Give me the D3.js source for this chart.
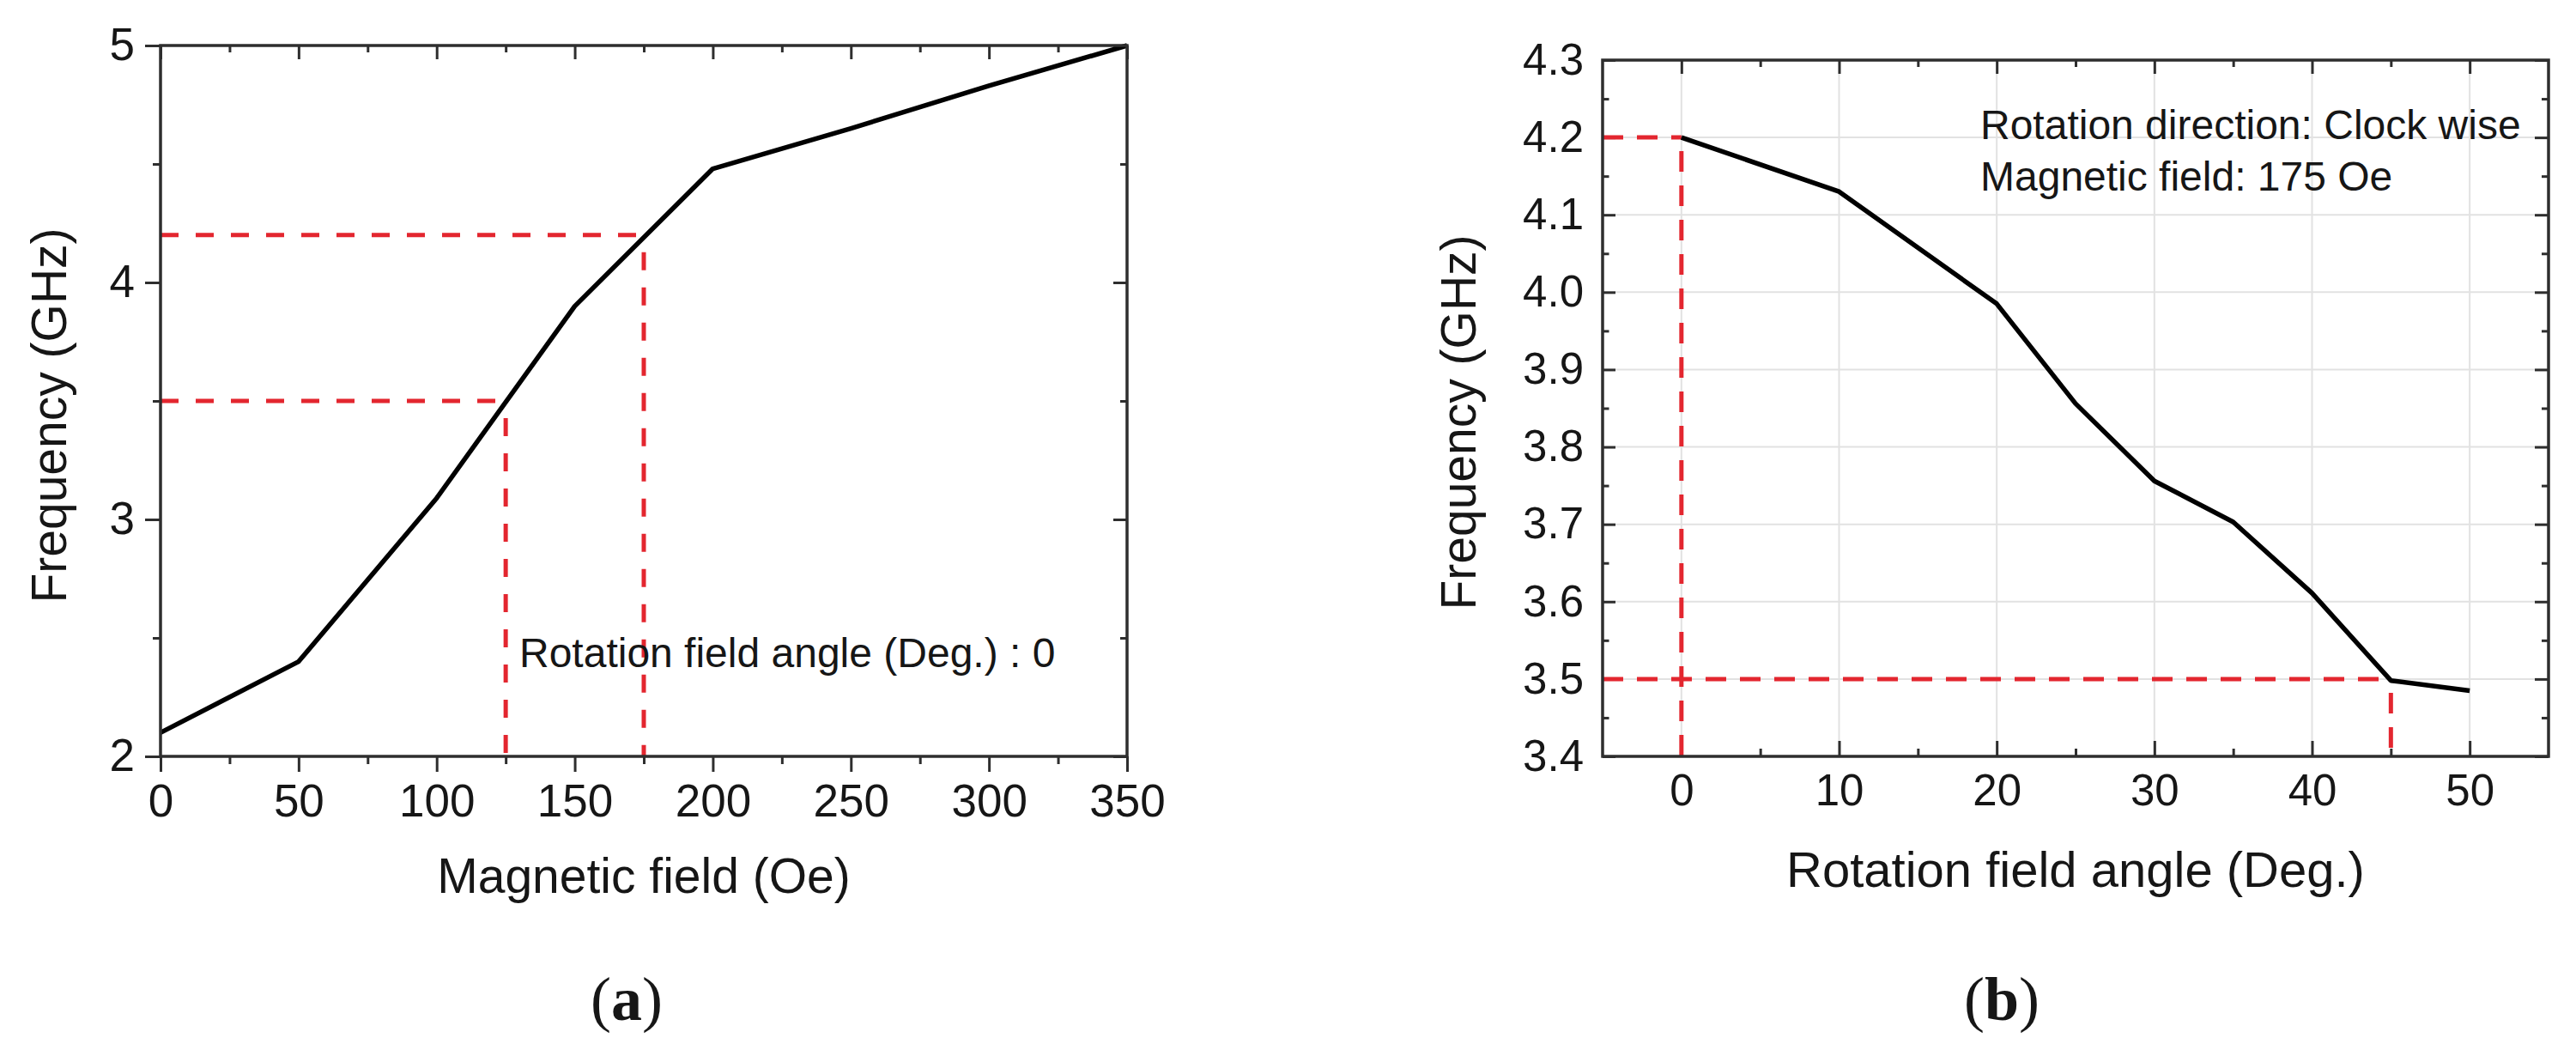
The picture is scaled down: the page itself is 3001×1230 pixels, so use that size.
<!DOCTYPE html>
<html>
<head>
<meta charset="utf-8">
<script src="https://cdn.jsdelivr.net/npm/d3@7"></script>
<style>
  body { margin: 0; background: #fff; }
  svg { display: block; }
  text { font-family: "Liberation Sans", Arial, sans-serif; fill: #161616; }
</style>
</head>
<body>
<svg id="chart" width="3001" height="1230"></svg>
<script>
// (a) frequency vs magnetic field
const fieldOe = [0, 50, 100, 150, 200, 250, 300, 350];
const freqA = [2.10, 2.40, 3.09, 3.90, 4.48, 4.65, 4.83, 5.00];
const ticksAx = [0, 50, 100, 150, 200, 250, 300, 350];
const minorAx = [25, 75, 125, 175, 225, 275, 325];
const ticksAy = [2, 3, 4, 5];
const minorAy = [2.5, 3.5, 4.5];
// red guides: [x1, y1, x2, y2] in data units
const guidesA = [[0, 3.5, 125, 3.5], [125, 3.5, 125, 2], [0, 4.2, 175, 4.2], [175, 4.2, 175, 2]];

// (b) frequency vs rotation angle
const angleDeg = [0, 10, 20, 25, 30, 35, 40, 45, 50];
const freqB = [4.20, 4.13, 3.985, 3.856, 3.756, 3.703, 3.611, 3.498, 3.485];
const ticksBx = [0, 10, 20, 30, 40, 50];
const minorBx = [5, 15, 25, 35, 45];
const ticksBy = [3.4, 3.5, 3.6, 3.7, 3.8, 3.9, 4.0, 4.1, 4.2, 4.3];
const minorBy = [3.45, 3.55, 3.65, 3.75, 3.85, 3.95, 4.05, 4.15, 4.25];
const guidesB = [[-5, 4.2, 0, 4.2], [0, 4.2, 0, 3.4], [-5, 3.5, 45, 3.5], [45, 3.5, 45, 3.4]];

const svg = d3.select("#chart");
svg.append("rect").attr("width", 3001).attr("height", 1230).attr("fill", "#fff");

const axisColor = "#2e2e2e";
const red = "#e3262f";

function drawPanel(p) {
    const x = d3.scaleLinear().domain(p.xDomain).range([p.left, p.right]);
    const y = d3.scaleLinear().domain(p.yDomain).range([p.bottom, p.top]);
    const g = svg.append("g");

    if (p.grid) {
        g.append("g").selectAll("line").data(p.xTicks).join("line")
            .attr("x1", d => x(d)).attr("x2", d => x(d))
            .attr("y1", p.top).attr("y2", p.bottom)
            .attr("stroke", "#e2e2e2").attr("stroke-width", 2);
        g.append("g").selectAll("line").data(p.yTicks).join("line")
            .attr("x1", p.left).attr("x2", p.right)
            .attr("y1", d => y(d)).attr("y2", d => y(d))
            .attr("stroke", "#e2e2e2").attr("stroke-width", 2);
    }

    // ticks: sign of length gives direction (positive = outward)
    const styleAxis = sel => {
        sel.select(".domain").remove();
        sel.attr("font-family", null).attr("font-size", null);
        sel.selectAll("line").attr("stroke", axisColor).attr("stroke-width", 3);
        sel.selectAll("text").style("font-size", p.tickFont + "px").attr("fill", "#161616");
    };

    g.append("g").attr("transform", `translate(0,${p.bottom})`)
        .call(d3.axisBottom(x).tickValues(p.xTicks).tickSize(p.bottomLen).tickPadding(p.xPad).tickFormat(p.xFormat))
        .call(styleAxis);
    g.append("g").attr("transform", `translate(0,${p.bottom})`)
        .call(d3.axisBottom(x).tickValues(p.xMinor).tickSize(p.bottomLen / 2).tickFormat(""))
        .call(styleAxis);
    g.append("g").attr("transform", `translate(0,${p.top})`)
        .call(d3.axisTop(x).tickValues(p.xTicks).tickSize(-p.majorIn).tickFormat(""))
        .call(styleAxis);
    g.append("g").attr("transform", `translate(0,${p.top})`)
        .call(d3.axisTop(x).tickValues(p.xMinor).tickSize(-p.majorIn / 2).tickFormat(""))
        .call(styleAxis);

    g.append("g").attr("transform", `translate(${p.left},0)`)
        .call(d3.axisLeft(y).tickValues(p.yTicks).tickSize(p.leftLen).tickPadding(p.yPad).tickFormat(p.yFormat))
        .call(styleAxis);
    g.append("g").attr("transform", `translate(${p.left},0)`)
        .call(d3.axisLeft(y).tickValues(p.yMinor).tickSize(p.leftLen / 2).tickFormat(""))
        .call(styleAxis);
    g.append("g").attr("transform", `translate(${p.right},0)`)
        .call(d3.axisRight(y).tickValues(p.yTicks).tickSize(-p.majorIn).tickFormat(""))
        .call(styleAxis);
    g.append("g").attr("transform", `translate(${p.right},0)`)
        .call(d3.axisRight(y).tickValues(p.yMinor).tickSize(-p.majorIn / 2).tickFormat(""))
        .call(styleAxis);

    // guides
    g.append("g").selectAll("line").data(p.guides).join("line")
        .attr("x1", d => x(d[0])).attr("y1", d => y(d[1]))
        .attr("x2", d => x(d[2])).attr("y2", d => y(d[3]))
        .attr("stroke", red).attr("stroke-width", 5)
        .attr("stroke-dasharray", p.dash)
        .attr("stroke-dashoffset", d => d[0] === d[2] ? -p.dashGap : 0);

    // curve
    const line = d3.line().x(d => x(d[0])).y(d => y(d[1]));
    g.append("path")
        .datum(d3.zip(p.xs, p.ys))
        .attr("d", line)
        .attr("fill", "none")
        .attr("stroke", "#000")
        .attr("stroke-width", 5.5)
        .attr("stroke-linejoin", "round");

    // frame
    g.append("rect")
        .attr("x", p.left).attr("y", p.top)
        .attr("width", p.right - p.left).attr("height", p.bottom - p.top)
        .attr("fill", "none").attr("stroke", axisColor).attr("stroke-width", 3.5);

    // titles
    g.append("text")
        .attr("x", (p.left + p.right) / 2).attr("y", p.xTitleY)
        .attr("text-anchor", "middle").style("font-size", p.xTitleFont + "px")
        .text(p.xTitle);
    g.append("text")
        .attr("transform", `translate(${p.yTitleX},${p.yTitleY}) rotate(-90)`)
        .attr("text-anchor", "middle").style("font-size", "57px")
        .text(p.yTitle);

    p.notes.forEach(n => {
        g.append("text")
            .attr("x", n.x).attr("y", n.y)
            .style("font-size", "48px")
            .text(n.text);
    });

    const cap = g.append("text")
        .attr("x", p.capX).attr("y", 1188)
        .attr("text-anchor", "middle")
        .style("font-family", "'Liberation Serif', 'DejaVu Serif', serif")
        .style("font-size", "72px");
    cap.append("tspan").text("(");
    cap.append("tspan").style("font-weight", "bold").text(p.cap);
    cap.append("tspan").text(")");
}

drawPanel({
    left: 187, right: 1313, top: 53, bottom: 881,
    xDomain: [0, 350], yDomain: [2, 5],
    xTicks: ticksAx, xMinor: minorAx, yTicks: ticksAy, yMinor: minorAy,
    xFormat: d3.format("d"), yFormat: d3.format("d"),
    bottomLen: 18, leftLen: 18, majorIn: 16,
    xPad: 14, yPad: 12, tickFont: 53,
    grid: false,
    guides: guidesA, dash: "21,20", dashGap: 20,
    xs: fieldOe, ys: freqA,
    xTitle: "Magnetic field (Oe)", xTitleY: 1040, xTitleFont: 57,
    yTitle: "Frequency (GHz)", yTitleX: 77, yTitleY: 484,
    notes: [{ x: 605, y: 777, text: "Rotation field angle (Deg.) : 0" }],
    capX: 730, cap: "a"
});

drawPanel({
    left: 1867, right: 2969, top: 70, bottom: 881,
    xDomain: [-5, 55], yDomain: [3.4, 4.3],
    xTicks: ticksBx, xMinor: minorBx, yTicks: ticksBy, yMinor: minorBy,
    xFormat: d3.format("d"), yFormat: d3.format(".1f"),
    bottomLen: -18, leftLen: -15, majorIn: 16,
    xPad: 21, yPad: 22, tickFont: 51,
    grid: true,
    guides: guidesB, dash: "24,16", dashGap: 16,
    xs: angleDeg, ys: freqB,
    xTitle: "Rotation field angle (Deg.)", xTitleY: 1033, xTitleFont: 58,
    yTitle: "Frequency (GHz)", yTitleX: 1719, yTitleY: 492,
    notes: [
        { x: 2307, y: 162, text: "Rotation direction: Clock wise" },
        { x: 2307, y: 222, text: "Magnetic field: 175 Oe" }
    ],
    capX: 2332, cap: "b"
});
</script>
</body>
</html>
